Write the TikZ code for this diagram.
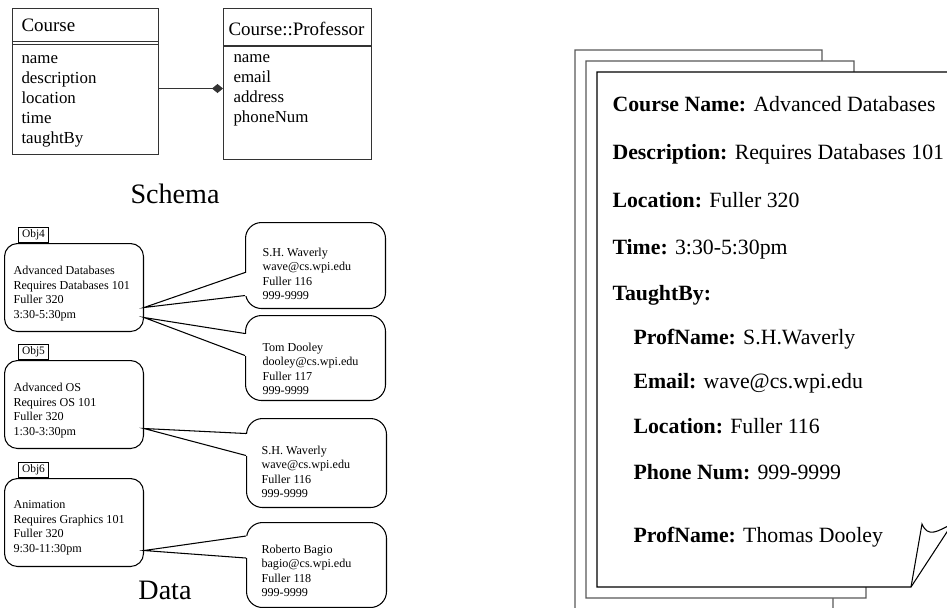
\documentclass[tikz,border=0pt]{standalone}
\usepackage{fontspec}
\setmainfont{Liberation Serif}
\usetikzlibrary{arrows.meta,calc}

\begin{document}
\begin{tikzpicture}[
                x=0.02cm, y=-0.02cm,          % 按像素定位
                line width=0.6pt,
                umlbox/.style={draw=black!80, inner sep=0pt, anchor=north west},
                umltitle/.style={font=\fontsize{10.8}{13}\selectfont, anchor=base west, inner sep=0pt},
                attrs/.style={font=\fontsize{9.6}{11.4}\selectfont, align=left, anchor=north west, inner sep=0pt},
                assoc/.style={-{Diamond[length=0.22cm, width=0.18cm]}, draw=black!80},
                objbox/.style={draw, rounded corners=0.26cm, minimum width=2.78cm, minimum height=1.76cm,
                    inner sep=0pt, anchor=north west},
                objtag/.style={draw, font=\fontsize{6.5}{7}\selectfont, minimum width=0.6cm, minimum height=0.3cm,
                    inner sep=0pt, anchor=south west},
                small/.style={font=\fontsize{6.9}{8.25}\selectfont, align=left, anchor=north west, inner sep=0pt},
                bubble/.style={draw, fill=white, rounded corners=0.32cm, minimum width=2.8cm, minimum height=#1,
                    inner sep=0pt, anchor=north west},
                gap/.style={fill=white},
                page/.style={draw, fill=white},
                field/.style={font=\fontsize{12.4}{14}\selectfont, anchor=base west, inner sep=0pt},
                caption/.style={font=\fontsize{16}{18}\selectfont, anchor=base, inner sep=0pt}
            ]
                \useasboundingbox (0,0) rectangle (947,608);

                % 模式
                \node[umlbox, minimum width=2.92cm, minimum height=2.92cm] (course) at (12,8) {};
                \node[umlbox, minimum width=2.96cm, minimum height=3.02cm] (prof) at (223,8) {};
                \draw[black!80, line width=0.5pt] ($(course.north west)+(0,33.5)$) -- ($(course.north east)+(0,33.5)$);
                \draw[black!80, line width=0.5pt] ($(course.north west)+(0,36.5)$) -- ($(course.north east)+(0,36.5)$);
                \draw[black!80] ($(prof.north west)+(0,38)$) -- ($(prof.north east)+(0,38)$);
                \node[umltitle] (coursetitle) at (21,32) {Course};
                \node[umltitle] (proftitle) at (228,36) {Course::Professor};
                \node[attrs] (courseattr) at (21,55.3) {name\\description\\location\\time\\taughtBy};
                \node[attrs] (profattr) at (233,54.3) {name\\email\\address\\phoneNum};
                \draw[assoc] ([yshift=-0.14cm]course.east) -- ([yshift=-0.09cm]prof.west);
                \node[caption] (schema) at (175,203) {Schema};

                % 数据对象
                \node[objbox] (o4) at (4,243) {};
                \node[objtag] (tag4) at ([xshift=0.28cm]o4.north west) {Obj4};
                \node[small] (o4text) at (13,265.7) {Advanced Databases\\Requires Databases 101\\Fuller 320\\3:30-5:30pm};
                \node[objbox] (o5) at (4,360) {};
                \node[objtag] (tag5) at ([xshift=0.28cm]o5.north west) {Obj5};
                \node[small] (o5text) at (13,382.7) {Advanced OS\\Requires OS 101\\Fuller 320\\1:30-3:30pm};
                \node[objbox] (o6) at (4,478) {};
                \node[objtag] (tag6) at ([xshift=0.28cm]o6.north west) {Obj6};
                \node[small] (o6text) at (13,500.2) {Animation\\Requires Graphics 101\\Fuller 320\\9:30-11:30pm};
                \node[caption] (data) at (165,599) {Data};

                % 教授气泡
                \node[bubble=1.72cm] (c1) at (245,222) {};
                \node[bubble=1.70cm] (c2) at (245,315) {};
                \node[bubble=1.78cm] (c3) at (246,418) {};
                \node[bubble=1.70cm] (c4) at (246,522) {};
                \node[small] (c1text) at (262,247.2) {S.H. Waverly\\wave@cs.wpi.edu\\Fuller 116\\999-9999};
                \node[small] (c2text) at (262,342.2) {Tom Dooley\\dooley@cs.wpi.edu\\Fuller 117\\999-9999};
                \node[small] (c3text) at (261,445.2) {S.H. Waverly\\wave@cs.wpi.edu\\Fuller 116\\999-9999};
                \node[small] (c4text) at (261,544.2) {Roberto Bagio\\bagio@cs.wpi.edu\\Fuller 118\\999-9999};

                % 指针
                \coordinate (t1) at ($(o4.east)+(0,20)$);
                \coordinate (t2) at ($(o4.east)+(0,30)$);
                \coordinate (t3) at ($(o5.east)+(0,24)$);
                \coordinate (t4) at ($(o6.east)+(0,28)$);
                \coordinate (b1a) at ($(c1.west)+(0,7)$);
                \coordinate (b1b) at ($(c1.west)+(0,30)$);
                \coordinate (b2a) at ($(c2.west)+(0,-24.5)$);
                \coordinate (b2b) at ($(c2.west)+(0,-2.5)$);
                \coordinate (b3a) at ($(c3.west)+(0,-29.5)$);
                \coordinate (b3b) at ($(c3.west)+(0,-7.5)$);
                \coordinate (b4a) at ($(c4.west)+(0,-29)$);
                \coordinate (b4b) at ($(c4.west)+(0,-7)$);
                \fill[gap] ($(b1a)+(-1.5,0)$) rectangle ($(b1b)+(1.5,0)$);
                \fill[gap] ($(b2a)+(-1.5,0)$) rectangle ($(b2b)+(1.5,0)$);
                \fill[gap] ($(b3a)+(-1.5,0)$) rectangle ($(b3b)+(1.5,0)$);
                \fill[gap] ($(b4a)+(-1.5,0)$) rectangle ($(b4b)+(1.5,0)$);
                \draw (b1a) -- (t1) -- (b1b);
                \draw (b2a) -- (t2) -- (b2b);
                \draw (b3a) -- (t3) -- (b3b);
                \draw (b4a) -- (t4) -- (b4b);

                % 文档页
                \filldraw[page, draw=black!65] (575,50) -- (822,50) -- (822,61) -- (833,598) -- (833,620) -- (575,620) -- cycle;
                \filldraw[page, draw=black!65] (586,61) -- (854,61) -- (854,72) -- (866,587) -- (866,598) -- (586,598) -- cycle;
                \filldraw[page] (960,72) -- (597,72) -- (597,587) -- (911,587) -- (960,512);
                \draw (911,587) -- (922,524) .. controls (925,531) and (929,533) .. (934,532)
                    .. controls (939,531) and (944,528) .. (950,525);

                % 字段
                \node[field] (f1) at (612,112) {\textbf{Course Name:} Advanced Databases};
                \node[field] (f2) at (612,159.7) {\textbf{Description:} Requires Databases 101};
                \node[field] (f3) at (612,207.3) {\textbf{Location:} Fuller 320};
                \node[field] (f4) at (612,255) {\textbf{Time:} 3:30-5:30pm};
                \node[field] (f5) at (612,300) {\textbf{TaughtBy:}};
                \node[field] (f6) at (633,344) {\textbf{ProfName:} S.H.Waverly};
                \node[field] (f7) at (633,388) {\textbf{Email:} wave@cs.wpi.edu};
                \node[field] (f8) at (633,433) {\textbf{Location:} Fuller 116};
                \node[field] (f9) at (633,479) {\textbf{Phone Num:} 999-9999};
                \node[field] (f10) at (633,542) {\textbf{ProfName:} Thomas Dooley};
            \end{tikzpicture}
\end{document}
